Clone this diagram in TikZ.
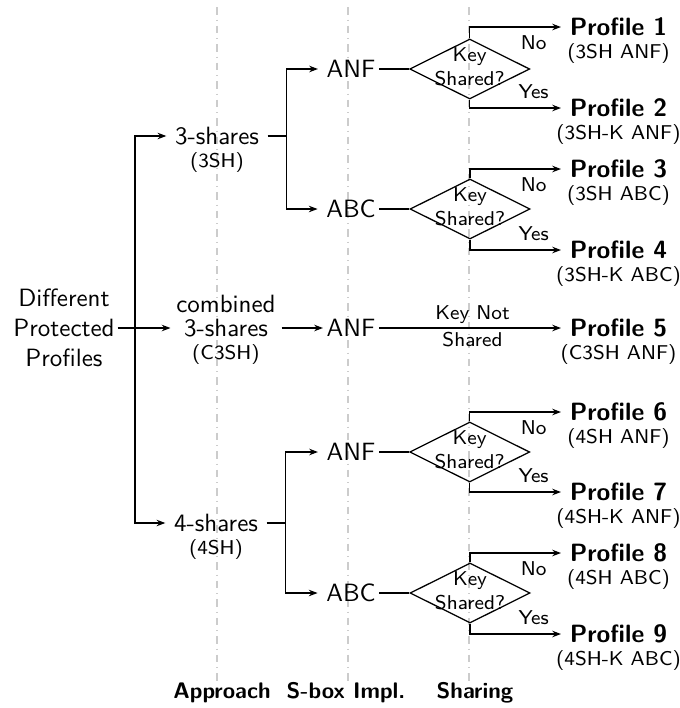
\documentclass[tikz,border=0pt]{standalone}
\usepackage{amsmath}
\usepackage{xcolor}
\usepackage{tikz}
\usetikzlibrary{arrows.meta,positioning,shapes.geometric,calc}

\begin{document}
\begin{tikzpicture}[
  x=0.4pt, y=-0.4pt,
  every node/.style={font=\sffamily},
  approach/.style={inner xsep=3.3pt, inner ysep=1pt},
  sbox/.style={inner sep=3.3pt},
  keyq/.style={diamond, draw, line width=0.5pt, minimum width=48pt,
    minimum height=24pt, inner sep=0pt},
  profile/.style={anchor=west, font=\sffamily\bfseries, inner ysep=1pt},
  sub/.style={font=\sffamily\footnotesize, inner sep=1.5pt},
  choice/.style={font=\sffamily\footnotesize},
  heading/.style={font=\sffamily\bfseries\small, anchor=base, inner ysep=1pt},
  guide/.style={gray!40, dash dot, line width=0.5pt},
  link/.style={line width=0.5pt},
  arrow/.style={-{Stealth[length=3.5pt, width=2.6pt]}, line width=0.5pt}
]
  \useasboundingbox (0,0) rectangle (680,708);

  % column guides
  \foreach \gx in {217,348,469}
    \draw[guide] (\gx,7) -- (\gx,683);
  \node[heading] (happ) at (222,698) {Approach};
  \node[heading] (hsbox) at (346,698) {S-box Impl.};
  \node[heading] (hshare) at (475,698) {Sharing};

  % root and approaches
  \node[align=center, inner sep=1pt] (dpp) at (64,328) {Different\\Protected\\Profiles};
  \coordinate (split) at (135,328);
  \node[approach, label={[sub]below:(3SH)}] (sh3) at (217,136) {3-shares};
  \node[approach, minimum width=44pt, label={[inner sep=1pt]above:combined},
    label={[sub]below:(C3SH)}] (c3sh) at (226,328) {3-shares};
  \node[approach, label={[sub]below:(4SH)}] (sh4) at (216,523) {4-shares};

  \draw[arrow] (dpp.east) -- (c3sh.west);
  \draw[arrow] (split) |- (sh3.west);
  \draw[arrow] (split) |- (sh4.west);

  % s-box implementations
  \node[sbox] (anf3) at (351,69) {ANF};
  \node[sbox] (abc3) at (351,209) {ABC};
  \node[sbox] (anf5) at (351,328) {ANF};
  \node[sbox] (anf4) at (351,452) {ANF};
  \node[sbox] (abc4) at (351,593) {ABC};

  \draw[link] (sh3.east) -- ++(19,0) coordinate (f3);
  \draw[arrow] (f3) |- (anf3.west);
  \draw[arrow] (f3) |- (abc3.west);
  \draw[arrow, shorten >=-2pt] (c3sh.east) -- (anf5.west);
  \draw[link] (sh4.east) -- ++(19,0) coordinate (f4);
  \draw[arrow] (f4) |- (anf4.west);
  \draw[arrow] (f4) |- (abc4.west);

  % key sharing decisions
  \node[keyq, right=10pt of anf3,
    label={[choice, align=center, yshift=1pt]center:Key\\Shared?}] (d1) {};
  \node[keyq, right=10pt of abc3,
    label={[choice, align=center, yshift=1pt]center:Key\\Shared?}] (d2) {};
  \node[keyq, right=10pt of anf4,
    label={[choice, align=center, yshift=1pt]center:Key\\Shared?}] (d3) {};
  \node[keyq, right=10pt of abc4,
    label={[choice, align=center, yshift=1pt]center:Key\\Shared?}] (d4) {};

  \draw[link, shorten <=-2pt] (anf3) -- (d1);
  \draw[link, shorten <=-2pt] (abc3) -- (d2);
  \draw[link, shorten <=-2pt] (anf4) -- (d3);
  \draw[link, shorten <=-2pt] (abc4) -- (d4);

  % profiles
  \node[profile, label={[sub]below:(3SH ANF)}] (p1) at (561,27) {Profile 1};
  \node[profile, label={[sub]below:(3SH-K ANF)}] (p2) at (561,108) {Profile 2};
  \node[profile, label={[sub]below:(3SH ABC)}] (p3) at (561,169) {Profile 3};
  \node[profile, label={[sub]below:(3SH-K ABC)}] (p4) at (561,250) {Profile 4};
  \node[profile, label={[sub]below:(C3SH ANF)}] (p5) at (561,328) {Profile 5};
  \node[profile, label={[sub]below:(4SH ANF)}] (p6) at (561,412) {Profile 6};
  \node[profile, label={[sub]below:(4SH-K ANF)}] (p7) at (561,492) {Profile 7};
  \node[profile, label={[sub]below:(4SH ABC)}] (p8) at (561,553) {Profile 8};
  \node[profile, label={[sub]below:(4SH-K ABC)}] (p9) at (561,634) {Profile 9};

  \draw[arrow] (d1.north) |- node[choice, pos=0.85, below] {No} (p1.west);
  \draw[arrow] (d1.south) |- node[choice, pos=0.85, above] {Yes} (p2.west);
  \draw[arrow] (d2.north) |- node[choice, pos=0.85, below] {No} (p3.west);
  \draw[arrow] (d2.south) |- node[choice, pos=0.85, above] {Yes} (p4.west);
  \draw[arrow, shorten <=-2pt] (anf5.east) -- node[choice, above, inner sep=1.5pt] {Key Not}
    node[choice, below, inner sep=1.5pt] {Shared} (p5.west);
  \draw[arrow] (d3.north) |- node[choice, pos=0.85, below] {No} (p6.west);
  \draw[arrow] (d3.south) |- node[choice, pos=0.85, above] {Yes} (p7.west);
  \draw[arrow] (d4.north) |- node[choice, pos=0.85, below] {No} (p8.west);
  \draw[arrow] (d4.south) |- node[choice, pos=0.85, above] {Yes} (p9.west);
\end{tikzpicture}
\end{document}
